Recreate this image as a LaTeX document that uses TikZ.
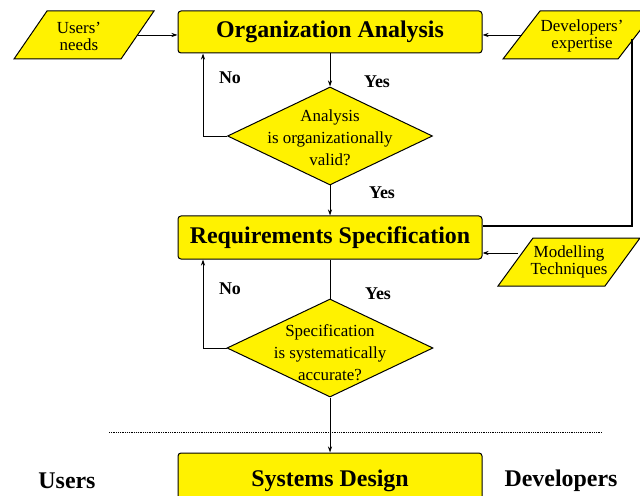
\documentclass[tikz,border=0pt]{standalone}
\usepackage{fontspec}
\setmainfont{Liberation Serif}
\usetikzlibrary{shapes.geometric,arrows.meta}
\begin{document}
\begin{tikzpicture}[x=1bp,y=-1bp,
 box/.style={draw,fill=yellow,rounded corners=3bp,line width=1bp,minimum width=304bp,inner sep=0,font=\fontsize{24}{24}\selectfont\bfseries},
 dia/.style={draw,fill=yellow,diamond,inner sep=0,line width=1bp},
 dtext/.style={align=center,font=\fontsize{17}{22}\selectfont,inner sep=0},
 ptext/.style={align=center,font=\fontsize{17}{17}\selectfont,inner sep=0},
 para/.style={draw,fill=yellow,line width=1bp},
 lab/.style={font=\fontsize{18}{18}\selectfont\bfseries,inner sep=0},
 big/.style={font=\fontsize{24}{24}\selectfont\bfseries,inner sep=0},
 arr/.style={-{Stealth[length=6bp,width=4bp]},line width=0.9bp},
 ln/.style={line width=1.5bp}]
\useasboundingbox (0,0) rectangle (640,496);
\clip (0,0) rectangle (640,496);

% main boxes
\node[box,minimum height=42bp] (oa) at (330,32) {Organization Analysis};
\node[box,minimum height=43bp] (rs) at (330,237.5) {Requirements Specification};
\node[box,minimum height=56bp] (sd) at (330,481) {Systems Design};

% decisions
\node[dia,minimum width=205bp,minimum height=98bp] (d1) at (330,136) {};
\node[dtext] (d1t) at (330,138) {Analysis\\is organizationally\\valid?};
\node[dia,minimum width=206bp,minimum height=98bp] (d2) at (330,348) {};
\node[dtext] (d2t) at (330,353) {Specification\\is systematically\\accurate?};

% inputs
\draw[para] (14,59) -- (47,11) -- (154,11) -- (121,59) -- cycle;
\node[ptext] (un) at (79,36) {Users’\\needs};
\draw[para] (503,59) -- (540,11) -- (655,11) -- (618,59) -- cycle;
\node[ptext] (de) at (582,36) {Developers’\\expertise};
\draw[para] (498,286) -- (533,238) -- (640,238) -- (605,286) -- cycle;
\node[ptext] (mt) at (569,262) {Modelling\\Techniques};

\coordinate (unr) at (138,35);
\coordinate (del) at (522,35);
\coordinate (mtl) at (518,253);
\coordinate (dvl) at (632,39);

\draw[arr] (unr) -- (unr -| oa.west);
\draw[arr] (del) -- (del -| oa.east);
\draw[arr] (mtl) -- (mtl -| rs.east);
\draw[ln] (dvl) |- ([yshift=11.5bp]rs.east);

% flow
\draw[arr] (oa.south) -- (d1.north);
\draw[arr] (d1.south) -- (rs.north);
\draw[line width=0.9bp] (rs.south) -- (d2.north);
\draw[arr] (d2.south) -- (sd.north);
\draw[arr] (d1.west) -| ([xshift=-127bp]oa.south);
\draw[arr] (d2.west) -| ([xshift=-127bp]rs.south);

% labels
\node[lab] (no1) at (230,78) {No};
\node[lab] (y1) at (377,82) {Yes};
\node[lab] (y2) at (382,193) {Yes};
\node[lab] (no2) at (230,289) {No};
\node[lab] (y3) at (378,294) {Yes};
\node[big] (us) at (67,481) {Users};
\node[big] (dv) at (561,481) {Developers};

% divider
\coordinate (dl) at (109,432);
\coordinate (dr) at (602,432);
\draw[densely dotted,line width=0.8bp] (dl) -- (dr);
\end{tikzpicture}
\end{document}
